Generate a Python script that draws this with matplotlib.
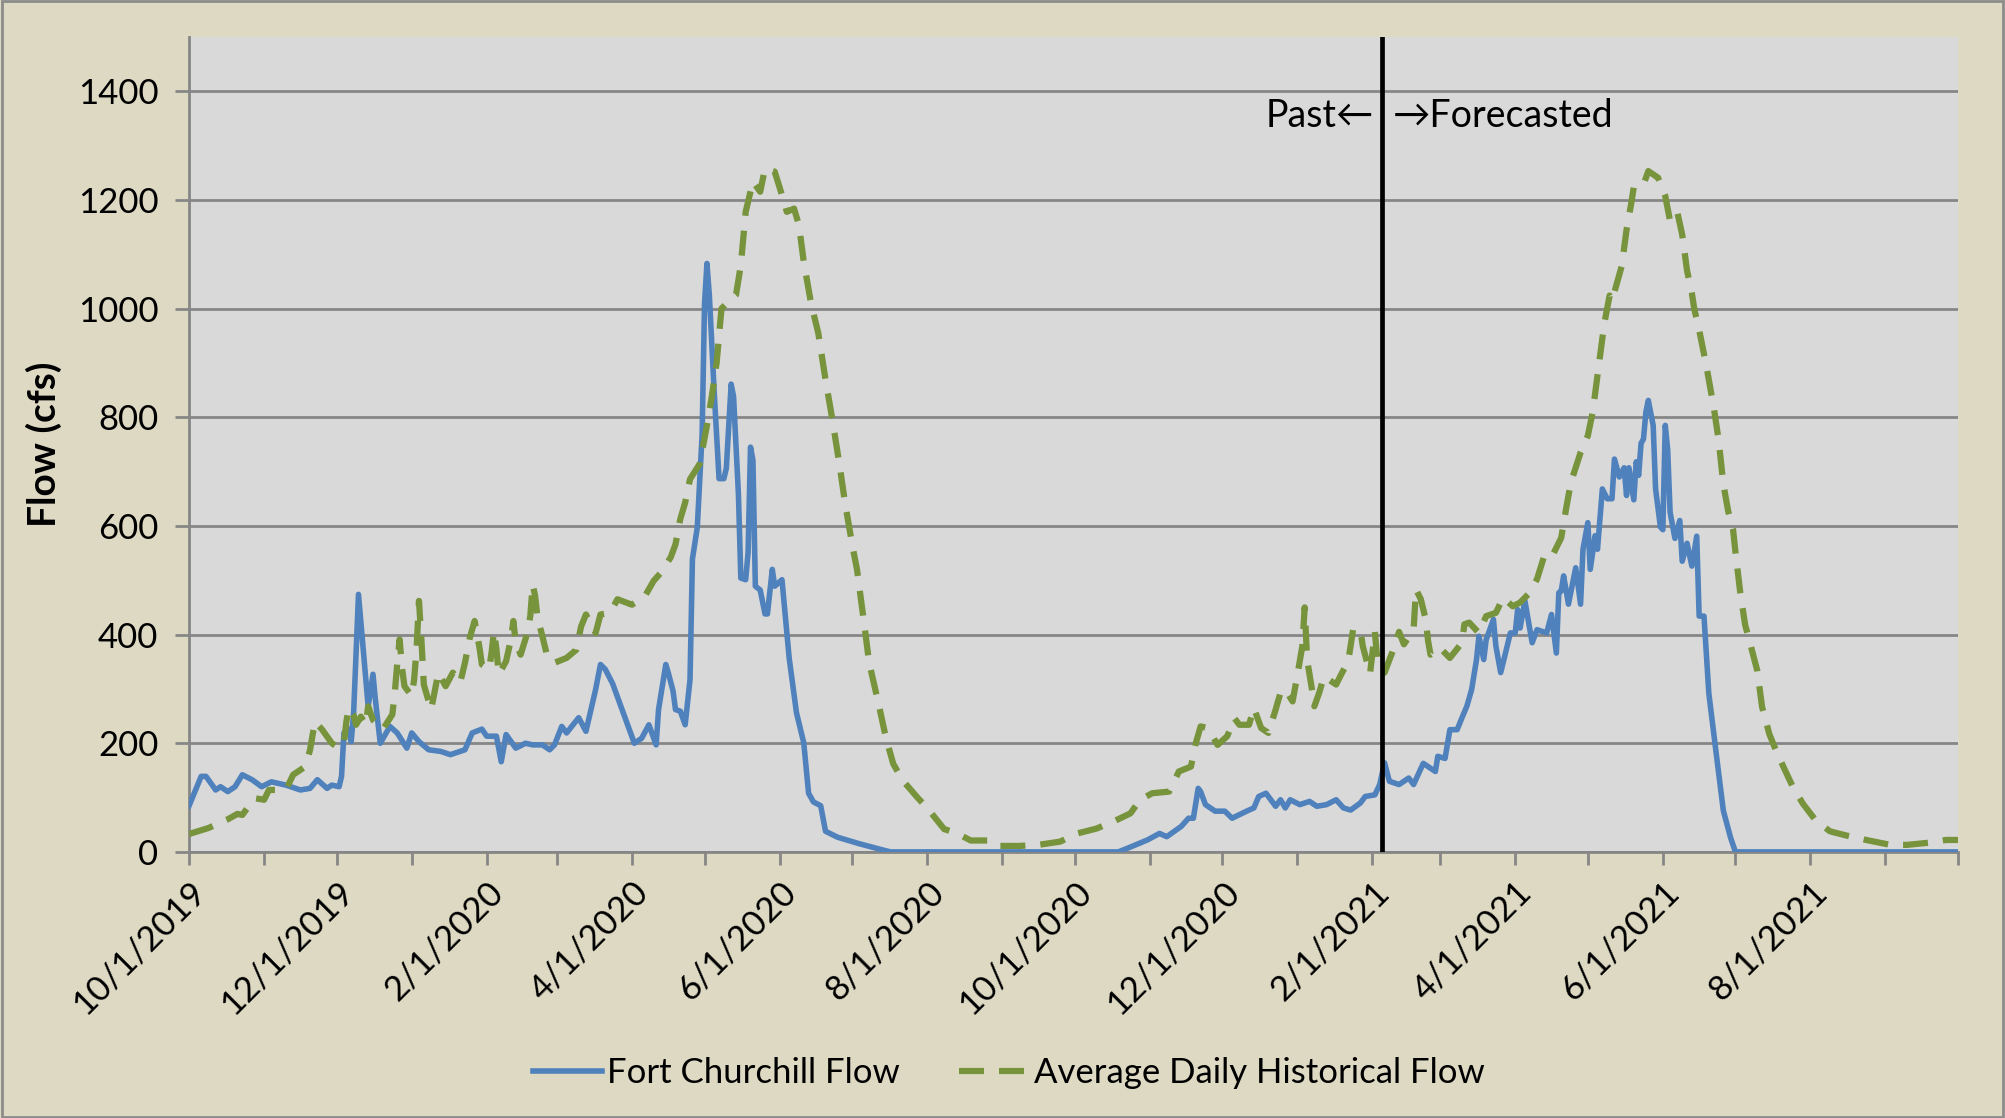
import matplotlib
matplotlib.use("Agg")
import matplotlib.pyplot as plt
import matplotlib.dates as mdates
from matplotlib.ticker import FuncFormatter
from matplotlib.patches import Rectangle
import pandas as pd

plt.rcParams['font.family'] = ['Lato', 'DejaVu Sans']

# days counted from 10/1/2019
start = "2019-10-01"

churchill_day = [0, 5, 7, 11, 13, 16, 19, 22, 26, 30, 34, 40, 46, 50, 53, 57, 59, 62, 63, 64,
                 66, 67, 68, 70, 72, 74, 76, 77, 79, 83, 86, 90, 92, 95, 99, 104, 108, 114, 117, 121,
                 123, 127, 129, 131, 135, 139, 142, 146, 149, 151, 154, 156, 161, 164, 168, 170, 172, 175, 181, 184,
                 187, 190, 193, 194, 197, 198, 200, 201, 203, 205, 207, 208, 210, 212, 213, 214, 215, 217, 219, 221,
                 222, 224, 225, 227, 228, 230, 231, 232, 233, 234, 236, 238, 239, 241, 242, 245, 248, 251, 254, 256,
                 258, 261, 263, 268, 277, 288, 290, 384, 389, 396, 401, 404, 410, 413, 415, 417, 418, 420, 424, 428,
                 431, 437, 440, 442, 445, 449, 451, 453, 455, 459, 463, 466, 470, 474, 477, 480, 484, 486, 490, 492,
                 494, 496, 500, 504, 506, 510, 515, 516, 519, 521, 524, 526, 528, 530, 532, 533, 535, 536, 537, 539,
                 540, 542, 546, 548, 549, 550, 552, 555, 557, 561, 563, 565, 566, 567, 568, 570, 573, 575, 576, 578,
                 579, 581, 582, 584, 586, 588, 589, 591, 593, 594, 595, 597, 598, 599, 600, 601, 602, 603, 605, 606,
                 608, 609, 610, 611, 612, 614, 616, 617, 619, 621, 623, 624, 626, 628, 631, 634, 637, 639, 731]
churchill_cfs = [85, 139, 139, 114, 120, 111, 120, 142, 133, 120, 129, 123, 114, 117, 133, 117, 123, 120, 139, 219,
                 226, 203, 256, 474, 372, 268, 327, 280, 200, 231, 219, 191, 219, 203, 188, 185, 179, 188, 219, 226,
                 213, 213, 166, 216, 191, 200, 197, 197, 188, 197, 231, 219, 247, 222, 299, 345, 336, 310, 237, 200,
                 209, 234, 197, 262, 345, 330, 296, 262, 259, 234, 317, 539, 597, 768, 1009, 1083, 1024, 846, 687, 687,
                 706, 861, 838, 659, 504, 501, 551, 745, 721, 489, 482, 438, 438, 520, 489, 501, 356, 256, 201, 108,
                 92, 85, 38, 27, 15, 2, 0, 0, 9, 22, 34, 28, 47, 62, 62, 117, 111, 87, 75, 75,
                 62, 75, 81, 102, 108, 84, 96, 81, 96, 87, 93, 84, 87, 96, 81, 77, 90, 102, 105, 124,
                 164, 130, 124, 136, 124, 163, 148, 176, 172, 225, 225, 247, 268, 299, 354, 397, 354, 391, 403, 428,
                 379, 330, 403, 403, 446, 412, 462, 385, 409, 403, 437, 366, 477, 480, 508, 456, 523, 456, 557, 606,
                 520, 582, 557, 668, 650, 650, 723, 690, 707, 656, 707, 648, 718, 693, 752, 760, 810, 831, 785, 668,
                 598, 593, 785, 740, 625, 577, 610, 535, 568, 526, 581, 434, 434, 292, 183, 76, 26, 0, 0]

hist_day = [0, 8, 12, 16, 20, 22, 27, 31, 33, 40, 43, 48, 50, 52, 55, 59, 62, 64, 65, 66,
            68, 69, 71, 73, 74, 76, 80, 84, 85, 86, 87, 88, 89, 92, 93, 94, 95, 96, 97, 100,
            101, 103, 106, 109, 112, 114, 116, 118, 120, 121, 124, 125, 126, 127, 128, 131, 133, 134, 135, 137,
            140, 141, 142, 143, 144, 146, 148, 151, 156, 160, 162, 164, 168, 170, 174, 177, 183, 188, 192, 195,
            199, 201, 203, 205, 207, 211, 214, 216, 218, 220, 223, 226, 228, 230, 233, 236, 238, 242, 245, 247,
            250, 252, 254, 257, 260, 263, 266, 269, 271, 274, 276, 279, 281, 285, 288, 291, 295, 301, 305, 312,
            317, 323, 331, 334, 343, 351, 360, 367, 375, 382, 389, 393, 398, 405, 409, 414, 416, 418, 421, 425,
            429, 432, 434, 438, 440, 443, 446, 449, 451, 453, 456, 458, 460, 461, 462, 464, 465, 467, 469, 471,
            474, 476, 479, 481, 484, 485, 488, 490, 491, 494, 497, 500, 502, 506, 507, 509, 511, 512, 513, 517,
            521, 526, 527, 529, 533, 536, 540, 543, 547, 550, 554, 557, 560, 563, 567, 569, 571, 575, 578, 580,
            582, 584, 585, 587, 588, 592, 594, 596, 597, 601, 603, 607, 610, 612, 615, 617, 619, 621, 622, 624,
            627, 630, 632, 634, 636, 638, 639, 641, 643, 645, 648, 650, 653, 656, 659, 663, 667, 672, 678, 685,
            693, 703, 710, 719, 726, 731]
hist_cfs = [33, 44, 52, 60, 70, 68, 99, 96, 114, 114, 142, 157, 188, 240, 225, 200, 191, 200, 240, 265,
            252, 234, 249, 234, 268, 243, 225, 253, 293, 345, 391, 339, 305, 287, 317, 373, 462, 391, 308, 262,
            284, 330, 305, 330, 311, 348, 394, 425, 376, 345, 336, 367, 406, 373, 327, 351, 391, 425, 385, 363,
            406, 434, 492, 471, 431, 397, 360, 348, 357, 372, 415, 437, 403, 437, 440, 465, 455, 468, 499, 514,
            542, 566, 613, 643, 686, 714, 785, 838, 900, 1000, 1013, 1025, 1080, 1178, 1234, 1215, 1258, 1252, 1209, 1178,
            1184, 1154, 1086, 1010, 955, 869, 791, 706, 644, 566, 520, 419, 349, 271, 209, 162, 131, 100, 81, 42,
            35, 21, 21, 11, 11, 13, 19, 34, 43, 56, 71, 96, 108, 111, 148, 157, 200, 231, 228, 197,
            213, 246, 234, 234, 265, 228, 219, 262, 293, 299, 277, 326, 378, 450, 354, 299, 268, 293, 323, 317,
            308, 326, 351, 409, 409, 379, 328, 405, 355, 330, 365, 405, 382, 409, 483, 465, 428, 388, 363, 375,
            357, 385, 419, 422, 403, 434, 440, 468, 452, 459, 477, 502, 545, 542, 578, 631, 680, 735, 766, 809,
            877, 945, 977, 1024, 1015, 1078, 1145, 1195, 1224, 1228, 1253, 1241, 1207, 1161, 1177, 1136, 1070, 1028, 999, 961,
            894, 819, 760, 677, 627, 594, 552, 477, 418, 385, 334, 267, 217, 184, 155, 117, 88, 59, 38, 30,
            22, 13, 13, 17, 22, 22]

split_date = "2021-02-05"
end_date = "2021-10-01"

t0 = pd.Timestamp(start)
t1 = pd.Timestamp(end_date)
churchill_dates = t0 + pd.to_timedelta(churchill_day, unit="D")
hist_dates = t0 + pd.to_timedelta(hist_day, unit="D")

fig = plt.figure(figsize=(20.05, 11.18), dpi=100, facecolor="#DDD9C3")
ax = fig.add_axes([0.0943, 0.238, 0.8823, 0.729])
ax.set_facecolor("#D9D9D9")

ax.plot(churchill_dates, churchill_cfs, color="#4F81BD", lw=4, label="Fort Churchill Flow", zorder=3)
ax.plot(hist_dates, hist_cfs, color="#77933C", lw=4.5, linestyle=(0, (4, 2.4)),
        label="Average Daily Historical Flow", zorder=3)

sd = pd.Timestamp(split_date)
ax.axvline(sd, color="black", lw=3.4, zorder=4)
ax.annotate("Past\u2190", xy=(sd, 1355), xytext=(-6, 0), textcoords="offset points",
            ha="right", va="center", fontsize=27)
ax.annotate("\u2192Forecasted", xy=(sd, 1355), xytext=(8, 0), textcoords="offset points",
            ha="left", va="center", fontsize=27)

ax.set_xlim(t0, t1)
ax.set_ylim(0, 1500)
ax.set_yticks(range(0, 1401, 200))
ax.grid(axis="y", color="#868686", lw=2)
ax.set_axisbelow(True)


def date_label(v, pos):
    d = mdates.num2date(v)
    if d.replace(tzinfo=None) >= t1:
        return ""
    return f"{d.month}/{d.day}/{d.year}"


ax.xaxis.set_major_locator(mdates.MonthLocator(bymonth=[2, 4, 6, 8, 10, 12]))
ax.xaxis.set_minor_locator(mdates.MonthLocator())
ax.xaxis.set_major_formatter(FuncFormatter(date_label))

for s in ["top", "right"]:
    ax.spines[s].set_visible(False)
for s in ["left", "bottom"]:
    ax.spines[s].set_color("#868686")
    ax.spines[s].set_linewidth(2)

ax.tick_params(axis="y", which="major", length=10, width=2, color="#868686", labelsize=25, pad=12)
ax.tick_params(axis="x", which="both", length=9, width=2, color="#868686", labelsize=25, pad=8)
plt.setp(ax.get_xticklabels(), rotation=45, ha="right", rotation_mode="anchor")

ax.set_ylabel("Flow (cfs)", fontsize=28, fontweight="bold")
ax.yaxis.set_label_coords(-0.072, 0.5)

fig.legend(loc="center", bbox_to_anchor=(0.503, 0.04), ncol=2, frameon=False,
           fontsize=25, handlelength=2.0, handletextpad=0.15, columnspacing=1.7)

fig.patches.append(Rectangle((0.001, 0.001), 0.998, 0.998, transform=fig.transFigure,
                             fill=False, edgecolor="#8C8C8C", lw=2))

fig.savefig("out.png", dpi=100, facecolor=fig.get_facecolor())
